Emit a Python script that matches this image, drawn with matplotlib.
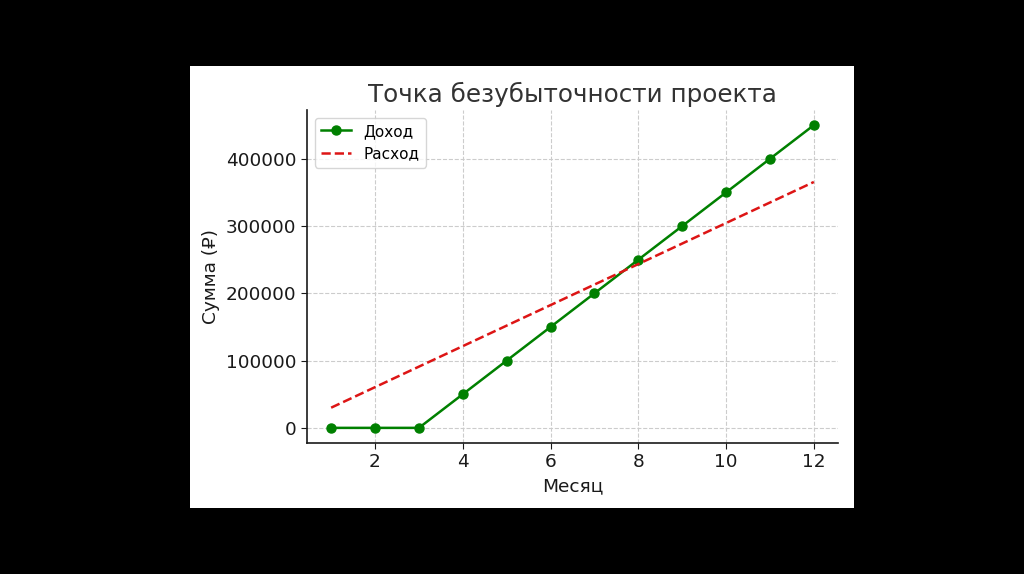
import matplotlib
matplotlib.use("Agg")
import matplotlib.pyplot as plt
from matplotlib.patches import Rectangle

months = [1, 2, 3, 4, 5, 6, 7, 8, 9, 10, 11, 12]
income = [0, 0, 0, 50000, 100000, 150000, 200000, 250000, 300000, 350000, 400000, 450000]
expense = [30000, 60500, 91000, 121500, 152000, 182500, 213000, 243500, 274000, 304500, 335000, 365500]

title = "Точка безубыточности проекта"
xlabel = "Месяц"
ylabel = "Сумма (₽)"
income_label = "Доход"
expense_label = "Расход"

plt.rcParams['font.family'] = ['DejaVu Sans']

fig = plt.figure(figsize=(10.24, 5.74), dpi=100, facecolor="black")
fig.patches.append(Rectangle((190 / 1024, 1 - 508 / 574), 664 / 1024, 442 / 574,
                             transform=fig.transFigure, facecolor="white",
                             edgecolor="none", zorder=-10))

ax = fig.add_axes([307 / 1024, 1 - 443 / 574, 531 / 1024, 333 / 574])
ax.set_facecolor("white")
ax.set_zorder(5)

ax.plot(months, income, color="green", marker="o", lw=1.8, ms=6.5, label=income_label)
ax.plot(months, expense, color="#dd1515", linestyle="--", lw=1.8, label=expense_label)

ax.set_title(title, fontsize=17.7, color="#333333", pad=6)
ax.set_xlabel(xlabel, fontsize=13.3, color="#1a1a1a")
ax.set_ylabel(ylabel, fontsize=13.3, color="#1a1a1a")
ax.tick_params(labelsize=13.3, colors="#1a1a1a", length=4)
ax.grid(True, linestyle="--", color="#cccccc", lw=0.8)
ax.set_axisbelow(True)
for s in ["top", "right"]:
    ax.spines[s].set_visible(False)
for s in ["left", "bottom"]:
    ax.spines[s].set_color("#1a1a1a")
    ax.spines[s].set_linewidth(1.2)

ax.legend(loc="upper left", fontsize=11, frameon=True)

fig.savefig("out.png", dpi=100, facecolor="black")
